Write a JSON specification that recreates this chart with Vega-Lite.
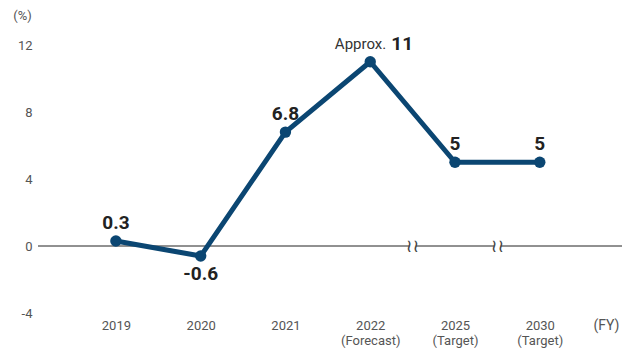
{
  "$schema": "https://vega.github.io/schema/vega-lite/v6.json",
  "autosize": "none",
  "width": 584,
  "height": 268,
  "padding": {"left": 38, "top": 45, "right": 2, "bottom": 38},
  "background": "white",
  "config": {
    "view": {"stroke": null},
    "font": "Roboto, sans-serif"
  },
  "datasets": {
    "main": [
      {"fy": "2019", "pos": 0, "value": 0.3, "label": "0.3", "prefix": ""},
      {"fy": "2020", "pos": 1, "value": -0.6, "label": "-0.6", "prefix": ""},
      {"fy": "2021", "pos": 2, "value": 6.8, "label": "6.8", "prefix": ""},
      {"fy": "2022 (Forecast)", "pos": 3, "value": 11, "label": "11", "prefix": "Approx."},
      {"fy": "2025 (Target)", "pos": 4, "value": 5, "label": "5", "prefix": ""},
      {"fy": "2030 (Target)", "pos": 5, "value": 5, "label": "5", "prefix": ""}
    ],
    "breaks": [
      {"pos": 3.5, "value": 0},
      {"pos": 4.5, "value": 0}
    ]
  },
  "data": {"name": "main"},
  "encoding": {
    "x": {
      "field": "pos",
      "type": "quantitative",
      "scale": {"domain": [-0.919, 5.97], "nice": false, "zero": false},
      "axis": {
        "values": [0, 1, 2, 3, 4, 5],
        "labelExpr": "[['2019'],['2020'],['2021'],['2022','(Forecast)'],['2025','(Target)'],['2030','(Target)']][datum.value]",
        "domain": false,
        "ticks": false,
        "grid": false,
        "labelPadding": 6,
        "labelFontSize": 13,
        "labelColor": "#555555",
        "labelLineHeight": 15,
        "labelBaseline": "top",
        "title": "(FY)",
        "titleFontSize": 14,
        "titleFontWeight": "normal",
        "titleColor": "#555555",
        "titleAnchor": null,
        "titleX": 568,
        "titleY": 12,
        "titleBaseline": "middle",
        "titleAlign": "center"
      }
    },
    "y": {
      "field": "value",
      "type": "quantitative",
      "scale": {"domain": [-4, 12], "nice": false},
      "axis": {
        "values": [-4, 0, 4, 8, 12],
        "labelExpr": "'' + datum.value",
        "domain": false,
        "ticks": false,
        "grid": false,
        "labelPadding": 6,
        "labelFontSize": 13,
        "labelColor": "#555555",
        "title": "(%)",
        "titleAngle": 0,
        "titleFontSize": 13,
        "titleFontWeight": "normal",
        "titleColor": "#555555",
        "titleAnchor": null,
        "titleX": -16,
        "titleY": -30,
        "titleAlign": "center",
        "titleBaseline": "middle"
      }
    }
  },
  "layer": [
    {
      "mark": {"type": "rule", "color": "#222222", "strokeWidth": 1},
      "data": {"values": [{"zero": 0}]},
      "encoding": {"x": null, "y": {"field": "zero", "type": "quantitative"}}
    },
    {
      "data": {"name": "breaks"},
      "mark": {"type": "point", "shape": "square", "filled": true, "color": "white", "size": 45, "opacity": 1},
      "encoding": {}
    },
    {
      "data": {"name": "breaks"},
      "mark": {"type": "text", "text": "≀≀", "font": "DejaVu Sans", "fontSize": 18, "color": "#444444", "baseline": "middle", "align": "center", "dy": 1},
      "encoding": {}
    },
    {
      "mark": {"type": "line", "color": "#0b4672", "strokeWidth": 5, "strokeJoin": "round"},
      "encoding": {}
    },
    {
      "mark": {"type": "point", "filled": true, "color": "#0b4672", "size": 130, "opacity": 1},
      "encoding": {}
    },
    {
      "transform": [{"filter": "datum.pos != 3 && datum.value >= 0"}],
      "mark": {"type": "text", "fontSize": 19, "fontWeight": "bold", "color": "#222222", "dy": -18, "baseline": "middle"},
      "encoding": {"text": {"field": "label"}}
    },
    {
      "transform": [{"filter": "datum.value < 0"}],
      "mark": {"type": "text", "fontSize": 19, "fontWeight": "bold", "color": "#222222", "dy": 18, "baseline": "middle"},
      "encoding": {"text": {"field": "label"}}
    },
    {
      "transform": [{"filter": "datum.pos == 3"}],
      "mark": {"type": "text", "fontSize": 19, "fontWeight": "bold", "color": "#222222", "dx": 21, "dy": -18, "align": "left", "baseline": "middle"},
      "encoding": {"text": {"field": "label"}}
    },
    {
      "transform": [{"filter": "datum.pos == 3"}],
      "mark": {"type": "text", "fontSize": 15, "color": "#333333", "dx": 16, "dy": -18, "align": "right", "baseline": "middle"},
      "encoding": {"text": {"field": "prefix"}}
    }
  ]
}
